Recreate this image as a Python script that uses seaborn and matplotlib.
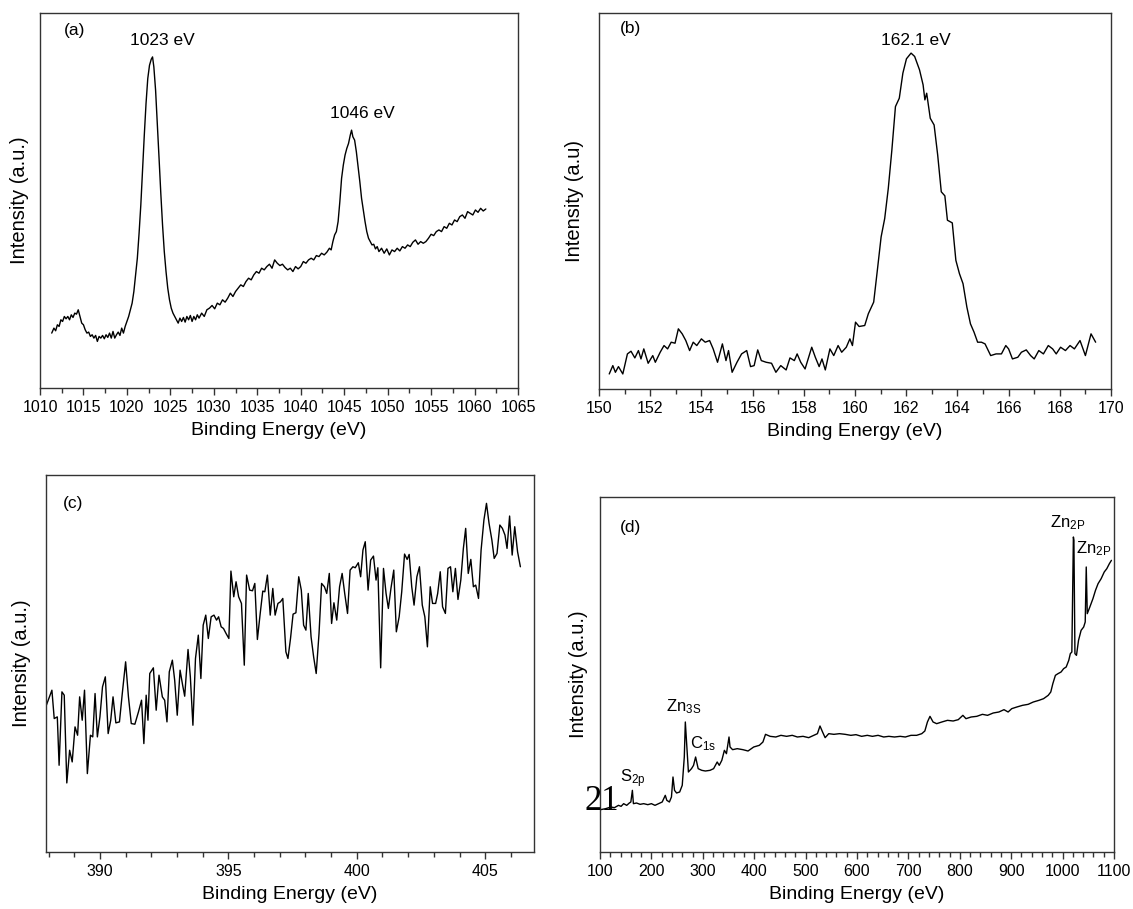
import matplotlib
matplotlib.use("Agg")
import matplotlib.pyplot as plt
from matplotlib.ticker import MultipleLocator, NullLocator
import seaborn as sns

# ---- (a) Zn 2p region ----
a_energy = [1011.35, 1011.6, 1011.8, 1012.0, 1012.2, 1012.4, 1012.6, 1012.8, 1013.0, 1013.2,
            1013.4, 1013.6, 1013.8, 1014.0, 1014.2, 1014.4, 1014.6, 1014.8, 1015.0, 1015.2,
            1015.4, 1015.6, 1015.8, 1016.0, 1016.2, 1016.4, 1016.6, 1016.8, 1017.0, 1017.2,
            1017.4, 1017.6, 1017.8, 1018.0, 1018.2, 1018.4, 1018.6, 1018.8, 1019.0, 1019.2,
            1019.4, 1019.6, 1019.8, 1020.0, 1020.2, 1020.4, 1020.6, 1020.8, 1021.0, 1021.2,
            1021.4, 1021.6, 1021.8, 1022.0, 1022.2, 1022.4, 1022.6, 1022.8, 1022.95, 1023.1,
            1023.3, 1023.5, 1023.7, 1023.9, 1024.1, 1024.3, 1024.5, 1024.7, 1024.9, 1025.1,
            1025.3, 1025.5, 1025.7, 1025.9, 1026.1, 1026.3, 1026.5, 1026.7, 1026.9, 1027.1,
            1027.3, 1027.5, 1027.7, 1027.9, 1028.1, 1028.3, 1028.6, 1028.9, 1029.2, 1029.5,
            1029.8, 1030.1, 1030.4, 1030.7, 1031.0, 1031.3, 1031.6, 1031.9, 1032.2, 1032.5,
            1032.8, 1033.1, 1033.4, 1033.7, 1034.0, 1034.3, 1034.6, 1034.9, 1035.2, 1035.5,
            1035.8, 1036.1, 1036.4, 1036.7, 1037.0, 1037.3, 1037.6, 1037.9, 1038.2, 1038.5,
            1038.8, 1039.1, 1039.4, 1039.7, 1040.0, 1040.3, 1040.6, 1040.9, 1041.2, 1041.5,
            1041.8, 1042.1, 1042.4, 1042.7, 1043.0, 1043.3, 1043.5, 1043.7, 1043.9, 1044.1,
            1044.3, 1044.5, 1044.7, 1044.9, 1045.1, 1045.3, 1045.5, 1045.7, 1045.85, 1046.0,
            1046.2, 1046.4, 1046.6, 1046.8, 1047.0, 1047.2, 1047.4, 1047.6, 1047.8, 1048.0,
            1048.2, 1048.4, 1048.6, 1048.8, 1049.0, 1049.3, 1049.6, 1049.9, 1050.2, 1050.5,
            1050.8, 1051.1, 1051.4, 1051.7, 1052.0, 1052.3, 1052.6, 1052.9, 1053.2, 1053.5,
            1053.8, 1054.1, 1054.4, 1054.7, 1055.0, 1055.3, 1055.6, 1055.9, 1056.2, 1056.5,
            1056.8, 1057.1, 1057.4, 1057.7, 1058.0, 1058.3, 1058.6, 1058.9, 1059.2, 1059.5,
            1059.8, 1060.1, 1060.4, 1060.7, 1061.0, 1061.3]
a_intensity = [165, 180, 172, 190, 185, 205, 200, 215, 208, 215,
               205, 220, 212, 225, 222, 235, 215, 195, 190, 175,
               165, 168, 155, 160, 150, 158, 140, 155, 150, 158,
               148, 160, 152, 165, 150, 170, 150, 160, 168, 158,
               180, 165, 185, 200, 215, 235, 255, 290, 340, 390,
               465, 550, 655, 760, 855, 930, 970, 988, 995, 965,
               895, 795, 690, 585, 490, 410, 350, 300, 265, 240,
               225, 215, 205, 195, 210, 200, 212, 198, 215, 205,
               218, 200, 215, 205, 220, 210, 225, 215, 235, 240,
               248, 238, 255, 250, 265, 258, 270, 285, 275, 290,
               300, 310, 305, 320, 330, 325, 340, 350, 345, 360,
               355, 365, 372, 360, 385, 375, 368, 372, 362, 355,
               360, 350, 365, 358, 365, 380, 375, 385, 390, 385,
               398, 395, 405, 400, 408, 420, 415, 440, 460, 470,
               500, 560, 630, 670, 700, 720, 735, 760, 775, 755,
               745, 710, 665, 620, 570, 535, 500, 470, 450, 440,
               430, 432, 418, 425, 410, 420, 405, 418, 400, 415,
               410, 420, 412, 425, 420, 430, 425, 438, 445, 432,
               440, 435, 440, 450, 462, 458, 470, 475, 470, 485,
               480, 495, 490, 505, 500, 515, 520, 510, 530, 525,
               520, 535, 528, 540, 532, 538]

# ---- (b) S 2p region ----
b_energy = [150.40, 150.54, 150.64, 150.76, 150.93, 151.11, 151.25, 151.40, 151.54, 151.64,
            151.75, 151.92, 152.10, 152.20, 152.39, 152.54, 152.68, 152.82, 152.97, 153.10,
            153.25, 153.39, 153.54, 153.68, 153.82, 154.00, 154.15, 154.32, 154.46, 154.63,
            154.82, 154.96, 155.06, 155.20, 155.39, 155.57, 155.77, 155.92, 156.06, 156.20,
            156.34, 156.53, 156.74, 156.91, 157.10, 157.31, 157.46, 157.63, 157.74, 157.88,
            158.05, 158.31, 158.45, 158.60, 158.71, 158.84, 159.02, 159.17, 159.34, 159.48,
            159.66, 159.80, 159.90, 160.02, 160.16, 160.38, 160.52, 160.73, 160.88, 161.02,
            161.16, 161.30, 161.44, 161.58, 161.73, 161.87, 162.01, 162.19, 162.33, 162.52,
            162.66, 162.73, 162.80, 162.94, 163.09, 163.23, 163.37, 163.51, 163.61, 163.80,
            163.94, 164.08, 164.22, 164.37, 164.51, 164.65, 164.79, 164.94, 165.08, 165.30,
            165.51, 165.72, 165.89, 166.00, 166.15, 166.36, 166.50, 166.69, 166.86, 167.00,
            167.18, 167.36, 167.55, 167.72, 167.86, 168.03, 168.22, 168.40, 168.57, 168.79,
            169.00, 169.22, 169.40]
b_intensity = [45, 70, 50, 67, 45, 105, 113, 93, 115, 90,
               120, 77, 100, 80, 110, 130, 120, 140, 137, 180,
               165, 145, 115, 140, 130, 150, 140, 145, 120, 80,
               135, 85, 115, 50, 80, 105, 115, 67, 70, 117,
               85, 80, 77, 50, 70, 57, 93, 85, 105, 80,
               60, 125, 95, 67, 90, 57, 120, 100, 130, 110,
               125, 150, 130, 200, 187, 190, 225, 260, 360, 455,
               510, 600, 715, 845, 870, 945, 988, 1005, 995, 955,
               910, 865, 885, 810, 790, 700, 590, 578, 505, 497,
               385, 345, 315, 245, 195, 170, 140, 140, 135, 100,
               105, 105, 130, 120, 90, 95, 110, 117, 100, 90,
               115, 105, 130, 120, 105, 125, 115, 130, 120, 145,
               100, 165, 140]

# ---- (c) N 1s region ----
c_energy = [387.89, 388.13, 388.22, 388.34, 388.41, 388.52, 388.61, 388.71, 388.82, 388.92,
            389.03, 389.13, 389.21, 389.31, 389.40, 389.51, 389.63, 389.72, 389.81, 389.90,
            390.00, 390.10, 390.21, 390.32, 390.42, 390.51, 390.62, 390.76, 390.87, 391.00,
            391.11, 391.22, 391.36, 391.50, 391.62, 391.71, 391.80, 391.87, 391.94, 392.08,
            392.19, 392.30, 392.43, 392.52, 392.61, 392.70, 392.82, 392.91, 393.01, 393.12,
            393.22, 393.30, 393.43, 393.52, 393.62, 393.72, 393.83, 393.93, 394.02, 394.12,
            394.22, 394.33, 394.44, 394.54, 394.62, 394.72, 394.81, 394.91, 395.02, 395.10,
            395.21, 395.30, 395.40, 395.51, 395.62, 395.71, 395.83, 395.94, 396.03, 396.13,
            396.24, 396.34, 396.42, 396.52, 396.63, 396.73, 396.82, 396.93, 397.03, 397.12,
            397.24, 397.32, 397.42, 397.52, 397.63, 397.74, 397.84, 397.93, 398.02, 398.11,
            398.22, 398.32, 398.42, 398.53, 398.63, 398.74, 398.83, 398.93, 399.02, 399.11,
            399.22, 399.33, 399.43, 399.53, 399.64, 399.74, 399.85, 399.94, 400.06, 400.15,
            400.24, 400.33, 400.44, 400.54, 400.65, 400.75, 400.82, 400.93, 401.04, 401.14,
            401.23, 401.33, 401.44, 401.54, 401.65, 401.75, 401.86, 401.96, 402.04, 402.14,
            402.23, 402.34, 402.44, 402.55, 402.65, 402.75, 402.86, 402.95, 403.07, 403.15,
            403.25, 403.34, 403.45, 403.55, 403.65, 403.74, 403.84, 403.94, 404.05, 404.15,
            404.24, 404.34, 404.44, 404.54, 404.63, 404.74, 404.84, 404.95, 405.05, 405.15,
            405.26, 405.35, 405.46, 405.57, 405.67, 405.77, 405.85, 405.95, 406.05, 406.15,
            406.26, 406.37]
c_intensity = [435, 485, 400, 405, 260, 480, 470, 207, 305, 270,
               375, 350, 465, 395, 485, 235, 350, 345, 475, 345,
               405, 495, 525, 355, 395, 465, 387, 390, 475, 570,
               465, 385, 383, 420, 455, 325, 470, 395, 535, 552,
               425, 530, 465, 455, 390, 540, 575, 515, 410, 545,
               500, 467, 607, 525, 380, 580, 650, 520, 680, 710,
               640, 705, 710, 695, 705, 675, 670, 655, 640, 842,
               765, 810, 765, 745, 560, 830, 785, 783, 805, 637,
               715, 782, 780, 830, 710, 790, 710, 745, 750, 760,
               600, 580, 640, 713, 717, 825, 785, 680, 665, 775,
               645, 585, 535, 655, 805, 795, 775, 835, 685, 747,
               695, 795, 835, 775, 715, 845, 855, 852, 867, 825,
               905, 930, 785, 875, 887, 815, 852, 552, 850, 775,
               730, 790, 845, 660, 705, 780, 893, 877, 892, 795,
               740, 825, 855, 740, 705, 615, 795, 745, 745, 775,
               840, 735, 715, 850, 855, 780, 850, 757, 815, 910,
               970, 835, 877, 795, 800, 760, 905, 995, 1045, 985,
               935, 880, 895, 980, 970, 950, 910, 1007, 890, 975,
               900, 855]

# ---- (d) survey spectrum ----
d_energy = [101, 111, 121, 128, 136, 141, 146, 152, 157, 160,
            163, 165, 171, 178, 185, 193, 200, 207, 214, 221,
            227, 230, 235, 239, 242, 245, 249, 255, 260, 264,
            266, 269, 272, 278, 282, 286, 291, 298, 305, 314,
            321, 328, 332, 337, 342, 346, 351, 353, 358, 367,
            378, 388, 399, 410, 417, 422, 431, 442, 452, 463,
            474, 484, 495, 506, 516, 523, 528, 533, 538, 545,
            555, 566, 577, 588, 598, 609, 620, 630, 641, 652,
            662, 673, 684, 694, 705, 716, 726, 732, 737, 742,
            748, 755, 765, 776, 787, 797, 806, 812, 822, 833,
            844, 854, 865, 876, 886, 894, 901, 911, 922, 933,
            943, 954, 963, 972, 977, 981, 986, 991, 997, 1002,
            1007, 1012, 1015, 1018, 1021, 1022, 1024, 1027, 1031, 1036,
            1041, 1044, 1046, 1048, 1053, 1059, 1064, 1069, 1075, 1081,
            1086, 1091, 1095]
d_intensity = [127, 130, 135, 133, 140, 137, 145, 140, 147, 150,
               185, 145, 147, 143, 145, 142, 145, 140, 145, 150,
               170, 155, 150, 165, 225, 185, 177, 180, 200, 285,
               390, 315, 240, 250, 260, 285, 250, 245, 243, 245,
               250, 270, 260, 275, 305, 295, 345, 315, 307, 310,
               307, 303, 315, 320, 330, 353, 347, 345, 350, 347,
               350, 345, 347, 343, 350, 355, 378, 360, 343, 355,
               353, 355, 353, 350, 352, 347, 350, 347, 350, 345,
               347, 345, 347, 345, 350, 350, 355, 363, 390, 407,
               390, 385, 390, 395, 393, 397, 410, 400, 405, 407,
               413, 410, 417, 420, 427, 420, 430, 435, 440, 443,
               450, 455, 460, 470, 480, 505, 530, 535, 540, 550,
               555, 575, 595, 600, 945, 935, 595, 590, 635, 665,
               675, 690, 855, 715, 735, 760, 785, 805, 820, 840,
               850, 865, 875]

sns.set_style("ticks")
plt.rcParams['font.family'] = ['Liberation Sans', 'DejaVu Sans']
plt.rcParams['mathtext.default'] = 'regular'
plt.rcParams['text.color'] = 'black'
plt.rcParams['axes.labelcolor'] = 'black'
plt.rcParams['xtick.color'] = 'black'
plt.rcParams['ytick.color'] = 'black'

W, H = 1133, 909
fig = plt.figure(figsize=(W / 100, H / 100), dpi=100)


def box(left, right, top, bottom):
    return [left / W, 1 - bottom / H, (right - left) / W, (bottom - top) / H]


def style(ax, xlim, ylim, major, minor, ylabel, pad):
    ax.set_xlim(*xlim)
    ax.set_ylim(*ylim)
    ax.xaxis.set_major_locator(MultipleLocator(major))
    ax.xaxis.set_minor_locator(MultipleLocator(minor))
    ax.yaxis.set_major_locator(NullLocator())
    ax.yaxis.set_minor_locator(NullLocator())
    ax.tick_params(axis='x', which='major', direction='out', length=5, width=1,
                   pad=3.5, labelsize=11.5, color='#333333', labelcolor='black',
                   bottom=True, top=False)
    ax.tick_params(axis='x', which='minor', direction='out', length=3.5, width=1,
                   color='#333333', bottom=True, top=False)
    ax.tick_params(axis='y', left=False, right=False)
    for s in ax.spines.values():
        s.set_visible(True)
        s.set_linewidth(1.0)
        s.set_color('#333333')
    ax.set_xlabel('Binding Energy (eV)', fontsize=14, labelpad=5)
    ax.set_ylabel(ylabel, fontsize=14.5, labelpad=pad)


line_kw = dict(color='black', linewidth=1.0, estimator=None, sort=False)

# (a)
ax_a = fig.add_axes(box(40, 518, 13, 388))
sns.lineplot(x=a_energy, y=a_intensity, ax=ax_a, **line_kw)
style(ax_a, (1010, 1065), (0, 1127), 5, 2.5, 'Intensity (a.u.)', 8)
ax_a.text(1012.8, 1060, '(a)', fontsize=12.5)
ax_a.text(1020.3, 1030, '1023 eV', fontsize=12.5)
ax_a.text(1043.4, 810, '1046 eV', fontsize=12.5)

# (b)
ax_b = fig.add_axes(box(599, 1111, 13, 389))
sns.lineplot(x=b_energy, y=b_intensity, ax=ax_b, **line_kw)
style(ax_b, (150, 170), (0, 1125), 2, 1, 'Intensity (a.u)', 11)
ax_b.text(150.8, 1065, '(b)', fontsize=12.5)
ax_b.text(161.0, 1030, '162.1 eV', fontsize=12.5)

# (c)
ax_c = fig.add_axes(box(46, 534, 475, 852))
sns.lineplot(x=c_energy, y=c_intensity, ax=ax_c, **line_kw)
style(ax_c, (387.9, 406.9), (0, 1130), 5, 1, 'Intensity (a.u.)', 11)
ax_c.text(388.54, 1030, '(c)', fontsize=12.5)

# (d)
ax_d = fig.add_axes(box(600, 1114, 497, 852))
sns.lineplot(x=d_energy, y=d_intensity, ax=ax_d, **line_kw)
style(ax_d, (100, 1100), (0, 1065), 100, 20, 'Intensity (a.u.)', 9)
ax_d.text(139, 960, '(d)', fontsize=12.5)
ax_d.text(139, 210, r'S$_{2p}$', fontsize=12)
ax_d.text(228, 423, r'Zn$_{3S}$', fontsize=12)
ax_d.text(276, 310, r'C$_{1s}$', fontsize=12)
ax_d.text(976, 973, r'Zn$_{2P}$', fontsize=12)
ax_d.text(1027, 895, r'Zn$_{2P}$', fontsize=12)
ax_d.text(69, 150, '21', fontsize=25, family=['Liberation Serif'], va='center', clip_on=False)

fig.savefig('out.png', dpi=100)
